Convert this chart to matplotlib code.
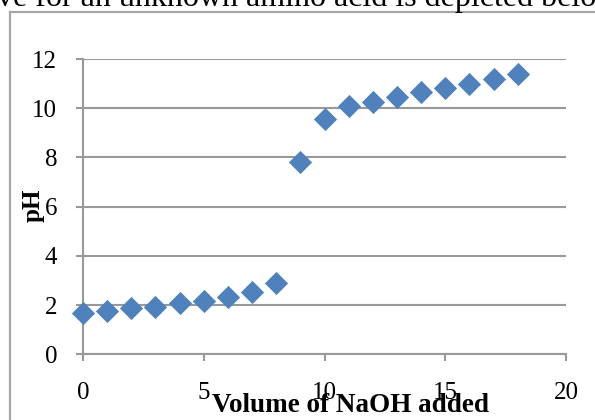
import matplotlib
matplotlib.use('Agg')
import matplotlib.pyplot as plt
from matplotlib.lines import Line2D

# volume of NaOH added vs pH
volume = [0, 1, 2, 3, 4, 5, 6, 7, 8, 9, 10, 11, 12, 13, 14, 15, 16, 17, 18]
ph = [1.69, 1.76, 1.87, 1.92, 2.07, 2.18, 2.34, 2.52, 2.91, 7.83,
      9.57, 10.1, 10.27, 10.47, 10.65, 10.84, 10.99, 11.2, 11.41]
xticks = [0, 5, 10, 15, 20]
yticks = [0, 2, 4, 6, 8, 10, 12]

W, H = 595, 420
fig = plt.figure(figsize=(W / 100, H / 100), dpi=100, facecolor='white')

# cut-off line of document text above the chart
fig.text(-3 / W, 1 - 6 / H, 've for an unknown amino acid is depicted below',
         family='Liberation Serif', fontsize=23, va='baseline', ha='left')

# outer chart frame (only left and top edges visible)
fig.add_artist(Line2D([9.5 / W, 9.5 / W], [0, 1 - 12 / H], transform=fig.transFigure,
                      color='#a6a6a6', lw=1.6))
fig.add_artist(Line2D([9.5 / W, 1], [1 - 12 / H, 1 - 12 / H], transform=fig.transFigure,
                      color='#a6a6a6', lw=1.6))

ax = fig.add_axes([83 / W, (H - 354.3) / H, (566 - 83) / W, (354.3 - 59) / H])
ax.scatter(volume, ph, marker='D', s=140, color='#4f81bd', linewidths=0,
           zorder=3, clip_on=False)

ax.set_xlim(0, 20)
ax.set_ylim(0, 12)
ax.set_xticks(xticks)
ax.set_yticks(yticks)
ax.grid(axis='y', color='#999999', lw=1.5)
ax.set_axisbelow(True)
for s in ['top', 'right']:
    ax.spines[s].set_visible(False)
for s in ['left', 'bottom']:
    ax.spines[s].set_color('#999999')
    ax.spines[s].set_linewidth(1.5)
ax.tick_params(axis='both', color='#999999', width=1.5, length=5, labelsize=18)
ax.tick_params(axis='x', pad=15)
ax.tick_params(axis='y', pad=13.5)
for lab in ax.get_xticklabels() + ax.get_yticklabels():
    lab.set_family('Liberation Serif')

fig.text(350 / W, 1 - 405 / H, 'Volume of NaOH added', family='Liberation Serif',
         fontweight='bold', fontsize=19.5, ha='center', va='center')
fig.text(33 / W, 1 - 205 / H, 'pH', family='Liberation Serif', fontweight='bold',
         fontsize=18, rotation=90, ha='center', va='center')

fig.savefig('out.png', dpi=100, facecolor='white')
